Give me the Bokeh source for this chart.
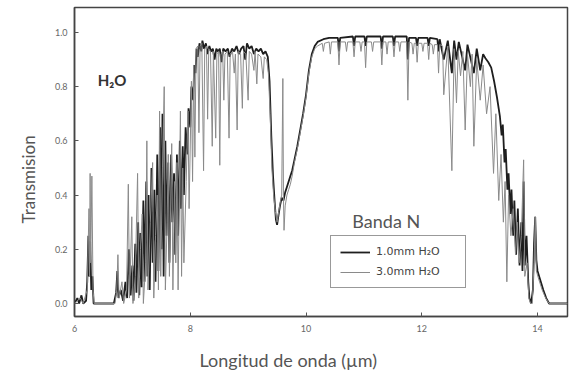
from bokeh.plotting import figure
from bokeh.models import Range1d, Label, Legend, LegendItem, Title, CustomJSTickFormatter
from bokeh.embed import file_html
from bokeh.resources import INLINE

# 1.0 mm H2O (thick dark line)
wl_1mm = [6.00, 6.05, 6.08, 6.12, 6.15, 6.20, 6.22, 6.24, 6.25, 6.27, 6.29, 6.31, 6.33, 6.68,
          6.72, 6.74, 6.76, 6.80, 6.84, 6.88, 6.91, 6.94, 6.97, 7.00, 7.02, 7.05, 7.07, 7.10,
          7.12, 7.14, 7.16, 7.19, 7.21, 7.24, 7.26, 7.28, 7.30, 7.33, 7.35, 7.38, 7.40, 7.43,
          7.45, 7.48, 7.50, 7.52, 7.54, 7.57, 7.59, 7.62, 7.64, 7.67, 7.69, 7.72, 7.74, 7.77,
          7.79, 7.82, 7.84, 7.87, 7.89, 7.92, 7.95, 7.97, 8.00, 8.02, 8.05, 8.07, 8.09, 8.11,
          8.13, 8.16, 8.19, 8.21, 8.24, 8.27, 8.30, 8.33, 8.36, 8.39, 8.42, 8.45, 8.48, 8.51,
          8.54, 8.57, 8.61, 8.65, 8.68, 8.72, 8.76, 8.80, 8.84, 8.88, 8.92, 8.95, 8.98, 9.02,
          9.06, 9.10, 9.14, 9.18, 9.22, 9.26, 9.30, 9.34, 9.37, 9.40, 9.43, 9.46, 9.48, 9.50,
          9.52, 9.55, 9.58, 9.61, 9.64, 9.67, 9.70, 9.73, 9.76, 9.80, 9.85, 9.90, 9.95, 10.00,
          10.05, 10.10, 10.15, 10.20, 10.30, 10.40, 10.55, 10.57, 10.59, 10.81, 10.83, 10.85,
          11.01, 11.03, 11.05, 11.29, 11.31, 11.33, 11.50, 11.52, 11.54, 11.74, 11.76, 11.78,
          11.90, 11.92, 11.94, 12.10, 12.12, 12.14, 12.27, 12.29, 12.31, 12.38, 12.45, 12.52,
          12.56, 12.60, 12.64, 12.75, 12.79, 12.90, 12.95, 13.01, 13.06, 13.10, 13.15, 13.20,
          13.25, 13.30, 13.35, 13.38, 13.40, 13.43, 13.45, 13.48, 13.50, 13.53, 13.55, 13.58,
          13.60, 13.63, 13.66, 13.69, 13.72, 13.74, 13.76, 13.78, 13.81, 13.84, 13.86, 13.89,
          13.92, 13.94, 13.96, 13.98, 14.00, 14.05, 14.10, 14.15, 14.20, 14.52]
tr_1mm = [0.00, 0.02, 0.00, 0.03, 0.00, 0.01, 0.08, 0.25, 0.10, 0.23, 0.05, 0.10, 0.00, 0.00,
          0.04, 0.12, 0.02, 0.05, 0.01, 0.08, 0.02, 0.20, 0.03, 0.14, 0.01, 0.22, 0.04, 0.30,
          0.03, 0.26, 0.06, 0.38, 0.08, 0.45, 0.10, 0.40, 0.05, 0.50, 0.15, 0.42, 0.08, 0.55,
          0.12, 0.65, 0.20, 0.70, 0.10, 0.60, 0.25, 0.52, 0.15, 0.55, 0.30, 0.48, 0.18, 0.55,
          0.25, 0.60, 0.35, 0.58, 0.40, 0.65, 0.55, 0.72, 0.65, 0.80, 0.75, 0.88, 0.85, 0.94,
          0.91, 0.96, 0.93, 0.97, 0.94, 0.96, 0.92, 0.95, 0.93, 0.94, 0.90, 0.94, 0.93, 0.94,
          0.89, 0.94, 0.93, 0.94, 0.91, 0.94, 0.93, 0.95, 0.92, 0.94, 0.95, 0.90, 0.96, 0.94,
          0.95, 0.92, 0.94, 0.93, 0.94, 0.92, 0.93, 0.91, 0.82, 0.62, 0.47, 0.37, 0.31, 0.29,
          0.32, 0.36, 0.39, 0.38, 0.41, 0.43, 0.45, 0.47, 0.49, 0.53, 0.58, 0.64, 0.70, 0.77,
          0.86, 0.92, 0.95, 0.965, 0.975, 0.98, 0.98, 0.93, 0.98, 0.985, 0.95, 0.985,
          0.985, 0.95, 0.985, 0.985, 0.94, 0.985, 0.985, 0.95, 0.985, 0.985, 0.90, 0.98,
          0.98, 0.95, 0.98, 0.98, 0.95, 0.98, 0.975, 0.93, 0.975, 0.90, 0.97, 0.85,
          0.97, 0.90, 0.965, 0.86, 0.955, 0.85, 0.94, 0.86, 0.92, 0.905, 0.89, 0.87,
          0.82, 0.76, 0.69, 0.62, 0.66, 0.52, 0.57, 0.42, 0.48, 0.33, 0.42, 0.25,
          0.38, 0.18, 0.35, 0.14, 0.30, 0.12, 0.45, 0.14, 0.25, 0.08, 0.02, 0.00,
          0.05, 0.22, 0.32, 0.16, 0.12, 0.085, 0.05, 0.02, 0.00, 0.00]

# 3.0 mm H2O (thin grey line)
wl_3mm = [6.00, 6.10, 6.15, 6.22, 6.25, 6.26, 6.27, 6.28, 6.30, 6.32, 6.34, 6.70, 6.73, 6.75,
          6.77, 6.82, 6.85, 6.90, 6.93, 6.95, 6.99, 7.01, 7.05, 7.09, 7.11, 7.14, 7.17, 7.19,
          7.23, 7.25, 7.27, 7.31, 7.35, 7.37, 7.40, 7.43, 7.45, 7.47, 7.49, 7.52, 7.55, 7.57,
          7.60, 7.62, 7.64, 7.68, 7.70, 7.73, 7.75, 7.77, 7.79, 7.83, 7.85, 7.87, 7.89, 7.93,
          7.96, 7.98, 8.02, 8.04, 8.06, 8.08, 8.10, 8.13, 8.15, 8.17, 8.20, 8.23, 8.25, 8.28,
          8.30, 8.32, 8.35, 8.38, 8.40, 8.44, 8.46, 8.49, 8.51, 8.53, 8.56, 8.58, 8.60, 8.64,
          8.67, 8.69, 8.73, 8.76, 8.78, 8.81, 8.83, 8.87, 8.90, 8.92, 8.96, 9.00, 9.02, 9.06,
          9.10, 9.12, 9.15, 9.17, 9.22, 9.26, 9.28, 9.32, 9.35, 9.38, 9.41, 9.44, 9.47, 9.50,
          9.53, 9.56, 9.58, 9.60, 9.61, 9.62, 9.64, 9.67, 9.70, 9.73, 9.76, 9.80, 9.85, 9.90,
          9.95, 10.00, 10.05, 10.10, 10.15, 10.20, 10.28, 10.30, 10.32, 10.40, 10.42, 10.44,
          10.55, 10.57, 10.59, 10.68, 10.70, 10.72, 10.81, 10.83, 10.85, 10.93, 10.95, 10.97,
          11.01, 11.03, 11.05, 11.13, 11.15, 11.17, 11.29, 11.31, 11.33, 11.38, 11.40, 11.42,
          11.50, 11.52, 11.54, 11.60, 11.62, 11.64, 11.74, 11.76, 11.78, 11.83, 11.85, 11.87,
          11.90, 11.92, 11.94, 12.00, 12.02, 12.04, 12.10, 12.12, 12.14, 12.18, 12.20, 12.22,
          12.27, 12.29, 12.31, 12.36, 12.38, 12.45, 12.52, 12.56, 12.60, 12.63, 12.67, 12.71,
          12.75, 12.79, 12.84, 12.87, 12.90, 12.95, 13.01, 13.06, 13.12, 13.18, 13.24, 13.28,
          13.33, 13.37, 13.41, 13.44, 13.47, 13.50, 13.54, 13.58, 13.62, 13.65, 13.68, 13.72,
          13.76, 13.78, 13.82, 13.85, 13.88, 13.91, 13.94, 13.96, 13.98, 14.02, 14.08, 14.14,
          14.20, 14.52]
tr_3mm = [0.00, 0.02, 0.00, 0.05, 0.35, 0.10, 0.48, 0.15, 0.47, 0.05, 0.00, 0.00, 0.05, 0.18,
          0.02, 0.08, 0.00, 0.05, 0.44, 0.02, 0.32, 0.00, 0.10, 0.48, 0.02, 0.20, 0.33, 0.00,
          0.15, 0.60, 0.05, 0.30, 0.52, 0.02, 0.25, 0.40, 0.05, 0.71, 0.10, 0.50, 0.80, 0.05,
          0.30, 0.55, 0.10, 0.59, 0.05, 0.45, 0.15, 0.52, 0.05, 0.71, 0.10, 0.50, 0.15, 0.45,
          0.71, 0.35, 0.82, 0.45, 0.88, 0.54, 0.94, 0.95, 0.63, 0.95, 0.96, 0.49, 0.94, 0.95,
          0.68, 0.94, 0.93, 0.58, 0.93, 0.61, 0.92, 0.93, 0.51, 0.92, 0.93, 0.75, 0.92, 0.93,
          0.61, 0.92, 0.93, 0.85, 0.92, 0.64, 0.93, 0.92, 0.72, 0.93, 0.92, 0.75, 0.93, 0.92,
          0.86, 0.93, 0.81, 0.92, 0.91, 0.83, 0.91, 0.90, 0.85, 0.70, 0.50, 0.40, 0.34, 0.30,
          0.34, 0.38, 0.40, 0.83, 0.40, 0.27, 0.36, 0.40, 0.42, 0.44, 0.47, 0.52, 0.57, 0.63,
          0.69, 0.76, 0.85, 0.91, 0.94, 0.95, 0.96, 0.93, 0.96, 0.965, 0.92, 0.965,
          0.965, 0.88, 0.965, 0.965, 0.93, 0.965, 0.965, 0.91, 0.965, 0.965, 0.93, 0.965,
          0.965, 0.87, 0.965, 0.965, 0.93, 0.965, 0.965, 0.88, 0.965, 0.965, 0.92, 0.965,
          0.965, 0.91, 0.965, 0.965, 0.93, 0.965, 0.965, 0.75, 0.965, 0.96, 0.92, 0.96,
          0.96, 0.89, 0.96, 0.96, 0.93, 0.96, 0.96, 0.90, 0.96, 0.955, 0.92, 0.955,
          0.955, 0.85, 0.955, 0.95, 0.77, 0.95, 0.49, 0.94, 0.74, 0.93, 0.84, 0.93,
          0.64, 0.92, 0.80, 0.92, 0.58, 0.90, 0.75, 0.88, 0.70, 0.80, 0.48, 0.70,
          0.38, 0.55, 0.30, 0.45, 0.08, 0.40, 0.25, 0.35, 0.18, 0.30, 0.15, 0.25,
          0.53, 0.10, 0.15, 0.02, 0.00, 0.00, 0.15, 0.32, 0.12, 0.09, 0.05, 0.02,
          0.00, 0.00]

x_ticks = [6, 8, 10, 12, 14]
y_ticks = [0.0, 0.2, 0.4, 0.6, 0.8, 1.0]

FONT = "Lato"
AX = "#555555"

p = figure(frame_width=493, frame_height=309, output_backend="svg", toolbar_location=None,
           x_range=Range1d(6, 14.518), y_range=Range1d(-0.048, 1.092),
           min_border_left=74, min_border_right=10, min_border_top=7, min_border_bottom=59)
p.xgrid.visible = False
p.ygrid.visible = False
p.outline_line_color = "#444444"
p.outline_line_width = 1.5
p.background_fill_color = "white"
p.border_fill_color = "white"

l1 = p.line(wl_1mm, tr_1mm, line_color="#1e1e1e", line_width=1.8)
l3 = p.line(wl_3mm, tr_3mm, line_color="#8a8a8a", line_width=1.0)

for ax in (p.xaxis[0], p.yaxis[0]):
    ax.axis_line_color = "#444444"
    ax.axis_line_width = 1.5
    ax.major_tick_in = 4
    ax.major_tick_out = 0
    ax.minor_tick_in = 3
    ax.minor_tick_out = 0
    ax.major_tick_line_color = "#555555"
    ax.minor_tick_line_color = "#777777"
    ax.major_label_text_font = FONT
    ax.major_label_text_font_size = "9px"
    ax.major_label_text_color = "#666666"

p.xaxis.ticker = x_ticks
p.xaxis[0].ticker.num_minor_ticks = 2
p.yaxis.ticker = y_ticks
p.yaxis[0].ticker.num_minor_ticks = 2
p.yaxis.formatter = CustomJSTickFormatter(code="return tick.toFixed(1);")
p.xaxis.major_label_standoff = 8
p.yaxis.major_label_standoff = 7

p.add_layout(Title(text="Longitud de onda (\u00b5m)", align="left", offset=125, standoff=25,
                   text_font=FONT, text_font_style="normal", text_font_size="18px",
                   text_color=AX), "below")
p.add_layout(Title(text="Transmision", align="left", offset=93, standoff=25,
                   text_font=FONT, text_font_style="normal", text_font_size="17px",
                   text_color=AX), "left")

p.add_layout(Label(x=6.40, y=0.793, text="H\u2082O", text_font=FONT, text_font_style="bold",
                   text_font_size="15px", text_color="#333333"))
p.add_layout(Label(x=10.80, y=0.262, text="Banda N", text_font=FONT,
                   text_font_size="18px", text_color=AX))

legend = Legend(items=[LegendItem(label="1.0mm H\u2082O", renderers=[l1]),
                       LegendItem(label="3.0mm H\u2082O", renderers=[l3])],
                location=(256, 28), border_line_color="#333333", border_line_width=1.2,
                label_text_font="DejaVu Sans", label_text_font_size="11px",
                label_text_color="#444444", label_width=80, label_standoff=6,
                glyph_width=30, glyph_height=12, spacing=7, padding=9, margin=0,
                background_fill_alpha=1.0)
p.add_layout(legend)

open("out.html", "w").write(file_html(p, INLINE))
